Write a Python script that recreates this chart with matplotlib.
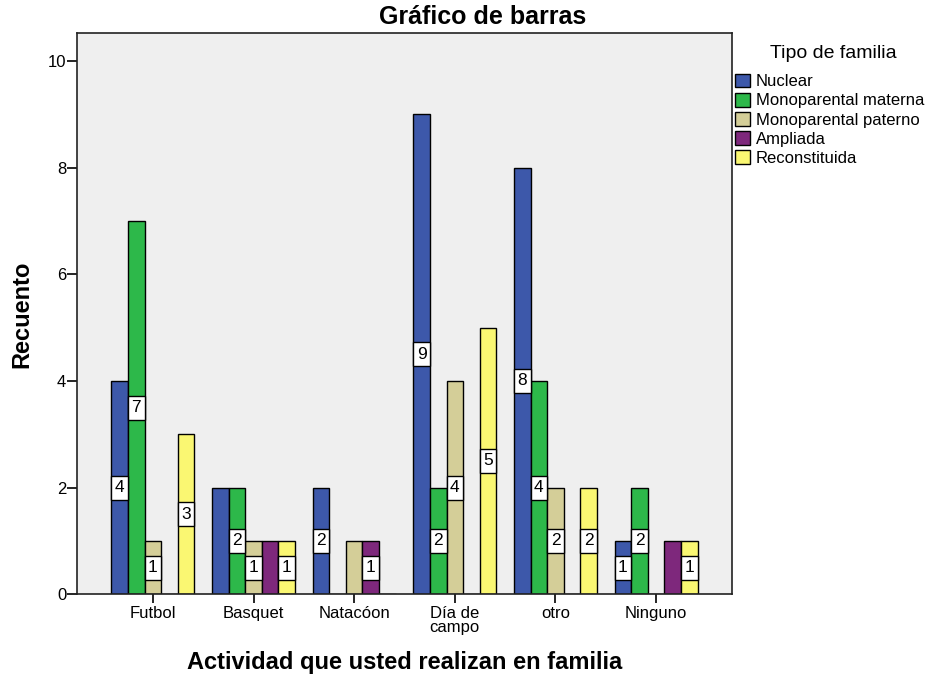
import matplotlib
matplotlib.use("Agg")
import matplotlib.pyplot as plt
from matplotlib.patches import Rectangle, Patch
import numpy as np

categories = ["Futbol", "Basquet", "Natacóon", "Día de\ncampo", "otro", "Ninguno"]
series_names = ["Nuclear", "Monoparental materna", "Monoparental paterno", "Ampliada", "Reconstituida"]
nuclear = [4, 2, 2, 9, 8, 1]
materna = [7, 2, 0, 2, 4, 2]
paterno = [1, 1, 1, 4, 2, 0]
ampliada = [0, 1, 1, 0, 0, 1]
reconstituida = [3, 1, 0, 5, 2, 1]
# which bar labels are visible in the original (others hidden by overlap)
label_nuclear = [1, 0, 1, 1, 1, 1]
label_materna = [1, 1, 0, 1, 1, 1]
label_paterno = [1, 1, 0, 1, 1, 0]
label_ampliada = [0, 0, 1, 0, 0, 0]
label_reconstituida = [1, 1, 0, 1, 1, 1]
yticks = [0, 2, 4, 6, 8, 10]

values = [nuclear, materna, paterno, ampliada, reconstituida]
labels_on = [label_nuclear, label_materna, label_paterno, label_ampliada, label_reconstituida]
colors = ["#3D58AA", "#2DB84A", "#D4CE98", "#7E287C", "#FAF772"]

plt.rcParams['font.family'] = ['Liberation Sans', 'DejaVu Sans']

fig = plt.figure(figsize=(9.33, 6.75), dpi=100)
ax = fig.add_axes([0.0829, 0.1196, 0.7013, 0.8311])
ax.set_facecolor("#EFEFEF")

x = np.arange(len(categories))
bw = 0.165
n = len(values)
label_h = 0.45
for i, (vals, lab, col) in enumerate(zip(values, labels_on, colors)):
    xs = x + (i - (n - 1) / 2) * bw
    ax.bar(xs, vals, width=bw, color=col, edgecolor="black", linewidth=1.0, zorder=2)
    for xi, v, show in zip(xs, vals, lab):
        if v > 0 and show:
            ax.add_patch(Rectangle((xi - bw / 2, v / 2 - label_h / 2), bw, label_h,
                                   facecolor="white", edgecolor="black", linewidth=1.0, zorder=3))
            ax.text(xi, v / 2, str(v), ha="center", va="center", fontsize=12.5, zorder=4)

ax.set_xlim(-0.75, len(categories) - 0.25)
ax.set_ylim(0, 10.52)
ax.set_xticks(x)
ax.set_xticklabels(categories, fontsize=12, linespacing=0.95)
ax.set_yticks(yticks)
ax.set_yticklabels([str(t) for t in yticks], fontsize=12)
ax.tick_params(axis="y", length=7.5, width=1.2, pad=0.5)
ax.tick_params(axis="x", length=6.5, width=1.2, pad=2)
for s in ax.spines.values():
    s.set_linewidth(1.2)
    s.set_color("#222222")

fig.text(483 / 933, 1 - 24 / 675, "Gráfico de barras", ha="center", va="baseline",
         fontsize=18, fontweight="bold")
fig.text(405 / 933, 1 - 669 / 675, "Actividad que usted realizan en familia", ha="center",
         va="baseline", fontsize=17, fontweight="bold")
fig.text(0.0235, 0.535, "Recuento", ha="center", va="center", rotation=90,
         fontsize=17, fontweight="bold")

fig.text(833 / 933, 1 - 58 / 675, "Tipo de familia", ha="center", va="baseline", fontsize=14)
handles = [Patch(facecolor=c, edgecolor="black", linewidth=1.0) for c in colors]
leg = fig.legend(handles, series_names, loc="upper left",
                 bbox_to_anchor=(735 / 933, 1 - 73.5 / 675), frameon=False,
                 fontsize=12, handlelength=0.9, handleheight=0.9, handletextpad=0.35,
                 labelspacing=0.21, borderpad=0, borderaxespad=0)

fig.savefig("out.png", dpi=100)
